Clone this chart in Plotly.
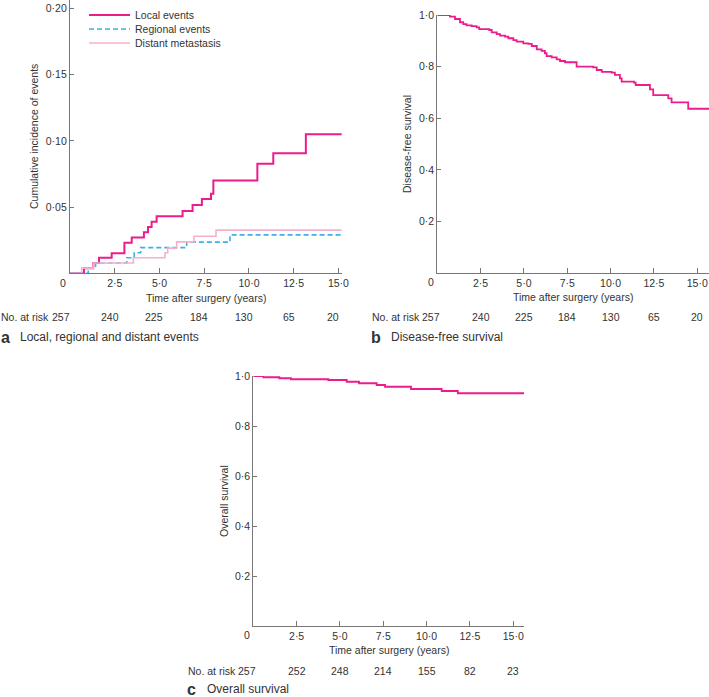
import plotly.graph_objects as go

W, H = 709, 697


def px(x):
    return x / W


def py(y):
    return 1 - y / H


# ---------------- data ----------------
# Panel a: cumulative incidence (step functions)
local_t = [0, 0.78, 1.30, 1.62, 2.33, 3.04, 3.45, 4.13, 4.36, 4.56, 4.84, 6.29, 6.85, 7.37, 7.88, 8.01, 10.47, 11.36, 13.18, 15.18]
local_v = [0, 0.0039, 0.0078, 0.0117, 0.0152, 0.0231, 0.027, 0.031, 0.035, 0.039, 0.043, 0.047, 0.0515, 0.056, 0.060, 0.070, 0.0826, 0.0907, 0.105, 0.105]

regional_t = [0, 1.02, 1.43, 3.17, 3.59, 3.95, 6.52, 8.94, 15.18]
regional_v = [0, 0.0039, 0.0078, 0.0117, 0.0155, 0.0194, 0.0235, 0.029, 0.029]

distant_t = [0, 0.65, 1.30, 3.54, 5.31, 5.46, 5.96, 6.93, 8.16, 15.18]
distant_v = [0, 0.0039, 0.0078, 0.0117, 0.0155, 0.019, 0.0237, 0.028, 0.0326, 0.0326]

# Panel b: disease-free survival
dfs_t = [0, 0.58, 0.73, 1.02, 1.31, 1.50, 1.69, 1.98, 2.27, 2.42, 3.0, 3.14, 3.43, 3.62, 3.91, 4.10, 4.39,
         4.58, 4.96, 5.25, 5.45, 5.74, 6.02, 6.21, 6.31, 6.60, 6.89, 7.08, 7.37, 8.04, 9.0, 9.20, 9.49,
         10.06, 10.25, 10.54, 10.64, 11.35, 11.45, 12.27, 12.46, 13.33, 13.52, 14.48, 15.68]
dfs_v = [1.0, 1.0, 0.9935, 0.9845, 0.972, 0.965, 0.960, 0.957, 0.952, 0.945, 0.942, 0.933, 0.926, 0.920,
         0.916, 0.910, 0.903, 0.897, 0.890, 0.888, 0.880, 0.867, 0.861, 0.852, 0.841, 0.836, 0.828, 0.822,
         0.817, 0.800, 0.797, 0.787, 0.780, 0.777, 0.768, 0.755, 0.742, 0.738, 0.729, 0.712, 0.690, 0.677,
         0.662, 0.637, 0.637]

# Panel c: overall survival
os_t = [0, 0.58, 1.5, 2.17, 4.33, 5.39, 6.1, 7.12, 7.6, 9.1, 10.87, 11.8, 15.62]
os_v = [1.0, 0.995, 0.991, 0.987, 0.984, 0.977, 0.971, 0.964, 0.957, 0.948, 0.940, 0.931, 0.931]

xtick_vals = [2.5, 5, 7.5, 10, 12.5, 15]
xtick_text = ["2·5", "5·0", "7·5", "10·0", "12·5", "15·0"]
a_ytick_vals = [0.05, 0.10, 0.15, 0.20]
a_ytick_text = ["0·05", "0·10", "0·15", "0·20"]
s_ytick_vals = [0.2, 0.4, 0.6, 0.8, 1.0]
s_ytick_text = ["0·2", "0·4", "0·6", "0·8", "1·0"]

risk_times = [0, 2.5, 5, 7.5, 10, 12.5, 15]
risk_a = [257, 240, 225, 184, 130, 65, 20]
risk_b = [257, 240, 225, 184, 130, 65, 20]
risk_c = [257, 252, 248, 214, 155, 82, 23]

# ---------------- style ----------------
MAG = "#EC1C8C"
BLUE = "#3AB2E4"
PINK = "#F7B0CC"
AX = "#777777"
TXT = "#333333"
FONT = "Liberation Sans, Arial, sans-serif"
FS = 10.5

fig = go.Figure()

fig.add_trace(go.Scatter(x=local_t, y=local_v, mode="lines", line=dict(color=MAG, width=2, shape="hv"),
                         name="Local events", xaxis="x", yaxis="y", legend="legend"))
fig.add_trace(go.Scatter(x=regional_t, y=regional_v, mode="lines",
                         line=dict(color=BLUE, width=1.6, shape="hv", dash="5px,3px"),
                         name="Regional events", xaxis="x", yaxis="y", legend="legend2"))
fig.add_trace(go.Scatter(x=distant_t, y=distant_v, mode="lines", line=dict(color=PINK, width=1.6, shape="hv"),
                         name="Distant metastasis", xaxis="x", yaxis="y", legend="legend3"))
fig.add_trace(go.Scatter(x=dfs_t, y=dfs_v, mode="lines", line=dict(color=MAG, width=1.8, shape="hv"),
                         showlegend=False, xaxis="x2", yaxis="y2"))
fig.add_trace(go.Scatter(x=os_t, y=os_v, mode="lines", line=dict(color=MAG, width=1.8, shape="hv"),
                         showlegend=False, xaxis="x3", yaxis="y3"))


def xax(domain, rng, anchor):
    return dict(domain=domain, range=rng, anchor=anchor, showline=True, linecolor=AX, linewidth=1.2,
                ticks="inside", ticklen=5, tickcolor=AX, tickwidth=1, showgrid=False, zeroline=False,
                automargin=False, tickvals=xtick_vals, ticktext=xtick_text,
                tickfont=dict(size=FS, color=TXT, family=FONT))


def yax(domain, rng, anchor, vals, text):
    return dict(domain=domain, range=rng, anchor=anchor, showline=True, linecolor=AX, linewidth=1.2,
                ticks="inside", ticklen=4, tickcolor=AX, tickwidth=1, showgrid=False, zeroline=False,
                automargin=False, tickvals=vals, ticktext=text,
                tickfont=dict(size=FS, color=TXT, family=FONT))


def leg(ypix):
    return dict(x=px(84), y=py(ypix), xanchor="left", yanchor="middle", bgcolor="rgba(0,0,0,0)",
                itemwidth=41, font=dict(size=FS, color=TXT, family=FONT), borderwidth=0)


fig.update_layout(
    template="none",
    width=W, height=H, margin=dict(l=0, r=0, t=0, b=0, pad=0), autosize=False,
    paper_bgcolor="white", plot_bgcolor="white",
    font=dict(family=FONT, color=TXT, size=FS),
    xaxis=xax([px(70), px(342)], [0, 15.2], "y"),
    yaxis=yax([py(273.3), 1.0], [0, 0.2063], "x", a_ytick_vals, a_ytick_text),
    xaxis2=xax([px(437.3), 1.0], [0, 15.68], "y2"),
    yaxis2=yax([py(273.3), py(15)], [0, 1.0], "x2", s_ytick_vals, s_ytick_text),
    xaxis3=xax([px(253.3), px(524)], [0, 15.62], "y3"),
    yaxis3=yax([py(626), py(376)], [0, 1.0], "x3", s_ytick_vals, s_ytick_text),
    legend=leg(15), legend2=leg(29), legend3=leg(43),
)

ann = []


def text(x, y, s, size=FS, xanchor="center", bold=False, angle=0, xref="paper", xshift=0):
    ann.append(dict(x=x, y=y, xref=xref, yref="paper", text=("<b>%s</b>" % s) if bold else s,
                    showarrow=False, xanchor=xanchor, yanchor="middle", textangle=angle, xshift=xshift,
                    borderpad=0, font=dict(size=size, color=TXT, family=FONT)))


# origin "0" labels
text(px(63), py(283), "0")
text(px(430.7), py(282), "0")
text(px(246.7), py(635), "0")

# x axis titles
text(px(206), py(298), "Time after surgery (years)")
text(px(573), py(297), "Time after surgery (years)")
text(px(389), py(650), "Time after surgery (years)")

# y axis titles
text(px(34), py(137), "Cumulative incidence of events", angle=-90)
text(px(407), py(144), "Disease-free survival", angle=-90)
text(px(224), py(501), "Overall survival", angle=-90)

# numbers at risk
text(px(0), py(317), "No. at risk", xanchor="left")
text(px(371), py(317), "No. at risk", xanchor="left")
text(px(187), py(671), "No. at risk", xanchor="left")
for i, (t, n) in enumerate(zip(risk_times, risk_a)):
    text(t, py(317), str(n), xref="x", xshift=-9 if i == 0 else -5)
for i, (t, n) in enumerate(zip(risk_times, risk_b)):
    text(t, py(317), str(n), xref="x2", xshift=-6 if i == 0 else 0)
for i, (t, n) in enumerate(zip(risk_times, risk_c)):
    text(t, py(671), str(n), xref="x3", xshift=-6 if i == 0 else 0)

# panel captions
text(px(0), py(337), "a", size=16, xanchor="left", bold=True)
text(px(19), py(337), "Local, regional and distant events", size=12, xanchor="left")
text(px(370), py(337), "b", size=16, xanchor="left", bold=True)
text(px(390), py(337), "Disease-free survival", size=12, xanchor="left")
text(px(186), py(689), "c", size=16, xanchor="left", bold=True)
text(px(206), py(689), "Overall survival", size=12, xanchor="left")

fig.update_layout(annotations=ann)

fig.write_html("out.html", config={"displayModeBar": False},
               post_script="document.body.style.margin='0px';document.body.style.overflow='hidden';")
